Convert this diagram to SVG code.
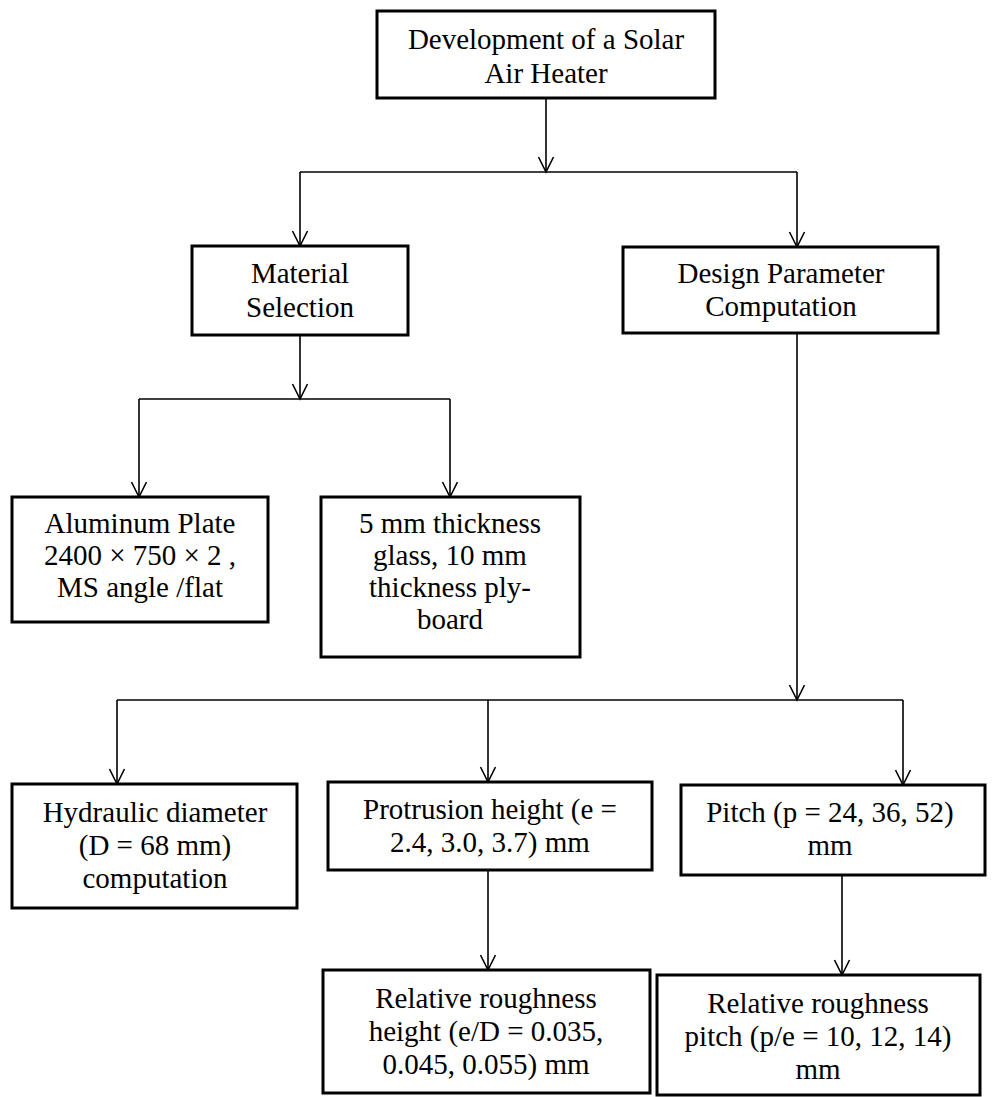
<svg xmlns="http://www.w3.org/2000/svg" width="994" height="1097" viewBox="0 0 994 1097">
<style>
.box{fill:#fff;stroke:#000;stroke-width:3}
.t{font-family:"Liberation Serif","Times New Roman",serif;font-size:29px;fill:#000;text-anchor:middle}
.c{fill:none;stroke:#000;stroke-width:1.6}
</style>
<defs>
<marker id="ah" viewBox="-16 -9 18 18" refX="0" refY="0" markerWidth="18" markerHeight="18" markerUnits="userSpaceOnUse" orient="auto">
<path d="M-15,-7.5 L0,0 L-15,7.5" fill="none" stroke="#000" stroke-width="1.6"/>
</marker>
</defs>
<rect width="994" height="1097" fill="#fff"/>
<g id="connectors">
<line class="c" x1="546" y1="98" x2="546" y2="172" marker-end="url(#ah)"/>
<line class="c" x1="300" y1="172" x2="797" y2="172"/>
<line class="c" x1="300" y1="172" x2="300" y2="246" marker-end="url(#ah)"/>
<line class="c" x1="797" y1="172" x2="797" y2="247" marker-end="url(#ah)"/>
<line class="c" x1="300" y1="335" x2="300" y2="399" marker-end="url(#ah)"/>
<line class="c" x1="139" y1="399" x2="450" y2="399"/>
<line class="c" x1="139" y1="399" x2="139" y2="497" marker-end="url(#ah)"/>
<line class="c" x1="450" y1="399" x2="450" y2="497" marker-end="url(#ah)"/>
<line class="c" x1="797" y1="333" x2="797" y2="700" marker-end="url(#ah)"/>
<line class="c" x1="117" y1="700" x2="903" y2="700"/>
<line class="c" x1="117" y1="700" x2="117" y2="784" marker-end="url(#ah)"/>
<line class="c" x1="488" y1="700" x2="488" y2="782" marker-end="url(#ah)"/>
<line class="c" x1="903" y1="700" x2="903" y2="785" marker-end="url(#ah)"/>
<line class="c" x1="488" y1="870" x2="488" y2="970" marker-end="url(#ah)"/>
<line class="c" x1="842" y1="875" x2="842" y2="975" marker-end="url(#ah)"/>
</g>
<g id="n-top">
<rect class="box" x="377" y="11" width="338" height="87"/>
<text class="t" x="546" y="49">Development of a Solar</text>
<text class="t" x="546" y="83">Air Heater</text>
</g>
<g id="n-material">
<rect class="box" x="192" y="246" width="216" height="89"/>
<text class="t" x="300" y="283">Material</text>
<text class="t" x="300" y="317">Selection</text>
</g>
<g id="n-design">
<rect class="box" x="623" y="247" width="315" height="86"/>
<text class="t" x="781" y="283">Design Parameter</text>
<text class="t" x="781" y="316">Computation</text>
</g>
<g id="n-aluminum">
<rect class="box" x="12" y="497" width="256" height="125"/>
<text class="t" x="140" y="533">Aluminum Plate</text>
<text class="t" x="140" y="565">2400 × 750 × 2 ,</text>
<text class="t" x="140" y="597">MS angle /flat</text>
</g>
<g id="n-glass">
<rect class="box" x="321" y="497" width="259" height="160"/>
<text class="t" x="450" y="533">5 mm thickness</text>
<text class="t" x="450" y="565">glass, 10 mm</text>
<text class="t" x="450" y="597">thickness ply-</text>
<text class="t" x="450" y="629">board</text>
</g>
<g id="n-hydraulic">
<rect class="box" x="12" y="784" width="285" height="124"/>
<text class="t" x="155" y="822">Hydraulic diameter</text>
<text class="t" x="155" y="855">(D = 68 mm)</text>
<text class="t" x="155" y="888">computation</text>
</g>
<g id="n-protrusion">
<rect class="box" x="328" y="782" width="324" height="88"/>
<text class="t" x="490" y="819">Protrusion height (e =</text>
<text class="t" x="490" y="852">2.4, 3.0, 3.7) mm</text>
</g>
<g id="n-pitch">
<rect class="box" x="681" y="785" width="304" height="90"/>
<text class="t" x="830" y="822">Pitch (p = 24, 36, 52)</text>
<text class="t" x="830" y="855">mm</text>
</g>
<g id="n-relheight">
<rect class="box" x="323" y="970" width="327" height="123"/>
<text class="t" x="486" y="1008">Relative roughness</text>
<text class="t" x="486" y="1041">height  (e/D = 0.035,</text>
<text class="t" x="486" y="1074">0.045, 0.055) mm</text>
</g>
<g id="n-relpitch">
<rect class="box" x="657" y="975" width="323" height="120"/>
<text class="t" x="818" y="1013">Relative roughness</text>
<text class="t" x="818" y="1046">pitch  (p/e = 10, 12, 14)</text>
<text class="t" x="818" y="1079">mm</text>
</g>
</svg>
